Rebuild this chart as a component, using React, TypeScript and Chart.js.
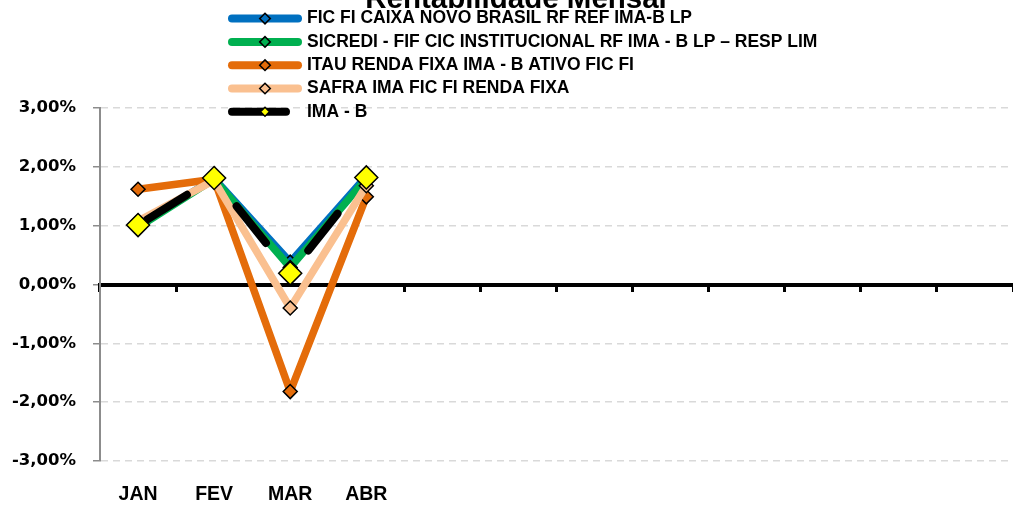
import React, { useEffect, useRef } from 'react';
import { Chart, registerables } from 'chart.js';

Chart.register(...registerables);

const chartTitle = 'Rentabilidade Mensal';
const categories = ['JAN', 'FEV', 'MAR', 'ABR', '', '', '', '', '', '', '', ''];
const seriesNames = [
  'FIC FI CAIXA NOVO BRASIL RF REF IMA-B LP',
  'SICREDI - FIF CIC INSTITUCIONAL RF IMA - B LP – RESP LIM',
  'ITAU RENDA FIXA IMA - B ATIVO FIC FI',
  'SAFRA IMA FIC FI RENDA FIXA',
  'IMA - B',
];
const caixaValues = [1.0, 1.8, 0.38, 1.84, null, null, null, null, null, null, null, null];
const sicrediValues = [0.97, 1.79, 0.29, 1.8, null, null, null, null, null, null, null, null];
const itauValues = [1.62, 1.79, -1.82, 1.49, null, null, null, null, null, null, null, null];
const safraValues = [1.08, 1.77, -0.4, 1.68, null, null, null, null, null, null, null, null];
const imabValues = [1.01, 1.81, 0.19, 1.82, null, null, null, null, null, null, null, null];
const yTickValues = [-3, -2, -1, 0, 1, 2, 3];

const lineColors = ['#0070C0', '#00B050', '#E46C0A', '#FAC090', '#000000'];
const markerFills = ['#0070C0', '#00B050', '#E46C0A', '#FAC090', '#FFFF00'];

const fmtPct = (v: number) => v.toFixed(2).replace('.', ',') + '%';

const overlayPlugin = {
  id: 'overlayTitleLegend',
  afterDraw(chart: any) {
    const ctx = chart.ctx as CanvasRenderingContext2D;
    ctx.save();
    ctx.fillStyle = '#000';
    ctx.font = 'bold 29.5px "Liberation Sans"';
    ctx.textAlign = 'center';
    ctx.textBaseline = 'alphabetic';
    ctx.fillText(chartTitle, 516, 7.5);

    const datasets = chart.data.datasets;
    datasets.forEach((ds: any, i: number) => {
      const y = 18.6 + i * 23.3;
      const isLast = i === datasets.length - 1;
      ctx.setLineDash([]);
      ctx.lineCap = 'round';
      ctx.lineWidth = 8;
      ctx.strokeStyle = ds.borderColor;
      ctx.beginPath();
      ctx.moveTo(232, y);
      ctx.lineTo(isLast ? 286 : 298, y);
      ctx.stroke();
      const r = isLast ? 4.5 : 5.3;
      const cx = 265;
      ctx.beginPath();
      ctx.moveTo(cx - r, y);
      ctx.lineTo(cx, y - r);
      ctx.lineTo(cx + r, y);
      ctx.lineTo(cx, y + r);
      ctx.closePath();
      ctx.fillStyle = ds.pointBackgroundColor;
      ctx.fill();
      ctx.lineWidth = 1.5;
      ctx.strokeStyle = '#000';
      ctx.stroke();
      ctx.fillStyle = '#000';
      ctx.font = 'bold 17.5px "Liberation Sans"';
      ctx.textAlign = 'left';
      ctx.textBaseline = 'middle';
      ctx.fillText(ds.label, 307, y);
    });
    ctx.restore();
  },
};

export default function App() {
  const canvasRef = useRef<HTMLCanvasElement | null>(null);

  useEffect(() => {
    if (!canvasRef.current) return;
    const values = [caixaValues, sicrediValues, itauValues, safraValues, imabValues];
    const datasets = values.map((data, i) => {
      const isIma = i === 4;
      return {
        label: seriesNames[i],
        data,
        borderColor: lineColors[i],
        backgroundColor: lineColors[i],
        borderWidth: isIma ? 8 : 7.5,
        borderCapStyle: 'round' as const,
        borderJoinStyle: 'round' as const,
        borderDash: isIma ? [47, 68] : [],
        borderDashOffset: isIma ? -10.5 : 0,
        pointStyle: 'rectRot' as const,
        pointRadius: isIma ? 11.5 : 7,
        pointHoverRadius: isIma ? 11.5 : 7,
        pointBackgroundColor: markerFills[i],
        pointBorderColor: '#000',
        pointBorderWidth: 1.5,
        tension: 0,
        fill: false,
        order: 5 - i,
      };
    });

    const chart = new Chart(canvasRef.current, {
      type: 'line',
      data: { labels: categories, datasets },
      plugins: [overlayPlugin],
      options: {
        responsive: false,
        animation: false,
        layout: { autoPadding: false, padding: { top: 108, left: 0, right: 0, bottom: 0 } },
        plugins: {
          legend: { display: false },
          title: { display: false },
          tooltip: { enabled: false },
        },
        scales: {
          x: {
            type: 'category',
            position: { y: 0 } as any,
            offset: true,
            grid: {
              display: true,
              drawOnChartArea: false,
              drawTicks: true,
              tickLength: 5,
              tickWidth: 3,
              tickColor: '#000',
              offset: true,
            },
            border: { display: true, color: '#000', width: 4 },
            ticks: { display: false },
          },
          x2: {
            type: 'category',
            position: 'bottom',
            offset: true,
            grid: { display: false, drawTicks: false },
            border: { display: false },
            ticks: {
              autoSkip: false,
              maxRotation: 0,
              padding: 22,
              color: '#000',
              font: { family: '"Liberation Sans"', weight: 'bold', size: 19.5 },
            },
            afterFit: (s: any) => {
              s.height = 44;
            },
          },
          y: {
            type: 'linear',
            min: -3,
            max: 3,
            afterBuildTicks: (s: any) => {
              s.ticks = yTickValues.map((v) => ({ value: v }));
            },
            afterFit: (s: any) => {
              s.width = 100;
            },
            grid: {
              color: '#D9D9D9',
              lineWidth: 1.5,
              drawTicks: true,
              tickLength: 7,
              tickColor: '#8C8C8C',
              tickWidth: 1.5,
            },
            border: { display: true, color: '#8C8C8C', width: 2, dash: [7, 5] },
            ticks: {
              padding: 17,
              color: '#000',
              font: { family: '"DejaVu Sans"', weight: 'bold', size: 16.5 },
              callback: (v: any) => fmtPct(Number(v)),
            },
          },
        },
      },
    });
    return () => chart.destroy();
  }, []);

  return (
    <div style={{ position: 'absolute', left: 0, top: 0, width: 1013, height: 505, background: '#fff' }}>
      <canvas ref={canvasRef} width={1013} height={505} style={{ display: 'block' }} />
    </div>
  );
}
